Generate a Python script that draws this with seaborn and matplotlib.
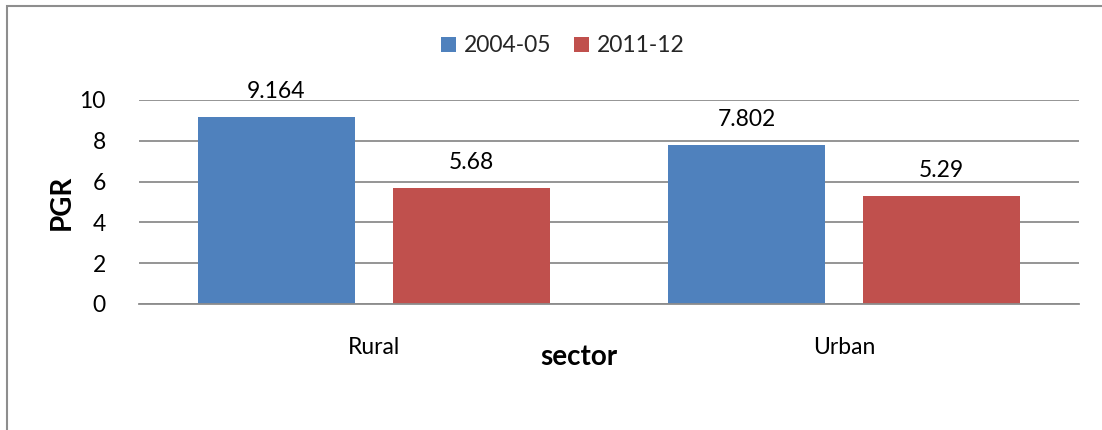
import matplotlib
matplotlib.use("Agg")
import matplotlib.pyplot as plt
from matplotlib.patches import Patch, Rectangle
import seaborn as sns
import pandas as pd

# Population growth rate by sector for two survey rounds
sectors = ["Rural", "Urban"]
rounds = ["2004-05", "2011-12"]
pgr_2004_05 = [9.164, 7.802]
pgr_2011_12 = [5.68, 5.29]
value_labels_2004_05 = ["9.164", "7.802"]
value_labels_2011_12 = ["5.68", "5.29"]
y_ticks = [0, 2, 4, 6, 8, 10]

colors = ["#4F81BD", "#C0504D"]

df = pd.DataFrame({
    "sector": sectors * 2,
    "round": [rounds[0]] * len(sectors) + [rounds[1]] * len(sectors),
    "PGR": pgr_2004_05 + pgr_2011_12,
})

sns.set_theme(style="white")
plt.rcParams["font.family"] = ["Lato", "DejaVu Sans"]

W, H = 1102, 430
fig = plt.figure(figsize=(W / 100, H / 100), dpi=100)
ax = fig.add_axes([139 / W, 1 - 304 / H, (1079 - 139) / W, (304 - 100) / H])

sns.barplot(data=df, x="sector", y="PGR", hue="round", hue_order=rounds,
            palette=colors, width=0.83, gap=0.195, saturation=1,
            edgecolor="none", ax=ax, legend=False)

for container, labels in zip(ax.containers, [value_labels_2004_05, value_labels_2011_12]):
    ax.bar_label(container, labels=labels, padding=11, fontsize=16.5, color="black")

ax.set_ylim(0, 10)
ax.set_xlim(-0.5, 1.5)
ax.set_yticks(y_ticks)
ax.set_yticklabels([str(t) for t in y_ticks], fontsize=16.5, color="black")
ax.tick_params(axis="y", length=0, pad=24)
ax.tick_params(axis="x", length=0, pad=24, labelsize=16.5, labelcolor="black")

ax.grid(axis="y", color="#8C8C8C", linewidth=1.3)
ax.set_axisbelow(True)
for side in ["left", "right", "top"]:
    ax.spines[side].set_visible(False)
ax.spines["bottom"].set_color("#8C8C8C")
ax.spines["bottom"].set_linewidth(1.3)

ax.set_ylabel("PGR", fontsize=20, fontweight="bold", color="black")
ax.yaxis.set_label_coords((75 - 139) / (1079 - 139), 0.5)
ax.set_xlabel("sector", fontsize=20, fontweight="bold", color="black")
ax.xaxis.set_label_coords((579 - 139) / (1079 - 139), -(344 - 304) / (304 - 100))

handles = [Patch(facecolor=c, edgecolor="none", label=r) for c, r in zip(colors, rounds)]
fig.legend(handles=handles, loc="center", bbox_to_anchor=(563 / W, 1 - 46 / H),
           ncol=2, frameon=False, fontsize=16.5, handlelength=0.65, handleheight=0.65,
           handletextpad=0.35, columnspacing=1.0)

fig.patches.append(Rectangle((7 / W, -0.1), 1.2, (1 - 6 / H) + 0.1,
                             transform=fig.transFigure, fill=False,
                             edgecolor="#8E8E8E", linewidth=1.5))

fig.savefig("out.png", dpi=100)
